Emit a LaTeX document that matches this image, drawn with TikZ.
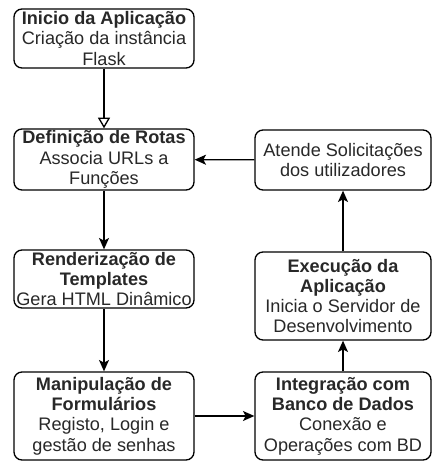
\documentclass[tikz,border=0pt]{standalone}
\usepackage{fontspec}
\setmainfont{Liberation Sans}
\usetikzlibrary{arrows.meta, positioning}
\definecolor{txtcol}{RGB}{40,40,40}

\begin{document}
\begin{tikzpicture}[
  x=0.75pt, y=-0.75pt,
  font=\fontsize{13.6}{15.2}\selectfont,
  box/.style={draw=black, line width=1pt, fill=white, rounded corners=6pt,
              minimum width=135pt, inner sep=0pt, align=center,
              text=txtcol},
  lnk/.style={-{Stealth[length=8.5pt, width=7.5pt, inset=2pt]}, line width=1pt},
  openlnk/.style={-{Triangle[open, length=8pt, width=9pt]}, line width=1pt}
]
  \useasboundingbox (0,0) rectangle (431,463);

  % left column
  \node[box, minimum height=44.25pt] (inicio) at (104,38.5)
    {\textbf{Inicio da Aplicação}\\Criação da instância\\Flask};
  \node[box, minimum height=45.75pt] (rotas) at (104,159.5)
    {\textbf{Definição de Rotas}\\Associa URLs a\\Funções};
  \node[box, minimum height=43.5pt] (templ) at (104,279)
    {\textbf{Renderização de}\\\textbf{Templates}\\Gera HTML Dinâmico};
  \node[box, minimum height=66pt] (form) at (104,416)
    {\textbf{Manipulação de}\\\textbf{Formulários}\\Registo, Login e\\gestão de senhas};

  % right column
  \node[box, minimum width=132pt, minimum height=45pt] (atende) at (343,160)
    {Atende Solicitações\\dos utilizadores};
  \node[box, minimum width=132pt, minimum height=66pt] (exec) at (343,296)
    {\textbf{Execução da}\\\textbf{Aplicação}\\Inicia o Servidor de\\Desenvolvimento};
  \node[box, minimum width=132pt, minimum height=66pt] (banco) at (343,416)
    {\textbf{Integração com}\\\textbf{Banco de Dados}\\Conexão e\\Operações com BD};

  \draw[openlnk] (inicio) -- (rotas);
  \draw[lnk] (rotas) -- (templ);
  \draw[lnk] (templ) -- (form);
  \draw[lnk] (form) -- (banco);
  \draw[lnk] (banco) -- (exec);
  \draw[lnk] (exec) -- (atende);
  \draw[lnk] (atende) -- (rotas);
\end{tikzpicture}
\end{document}
